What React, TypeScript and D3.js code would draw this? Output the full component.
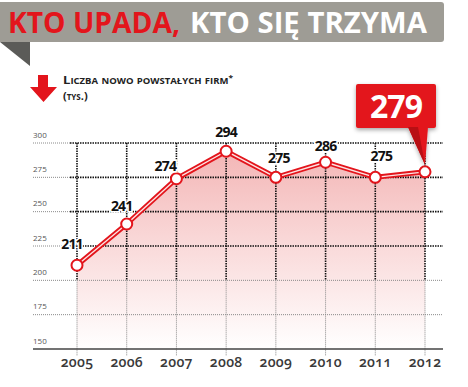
import React from 'react';
import * as d3 from 'd3';

// data
const years = ['2005', '2006', '2007', '2008', '2009', '2010', '2011', '2012'];
const firms = [211, 241, 274, 294, 275, 286, 275, 279];
const yTicks = [150, 175, 200, 225, 250, 275, 300];
const highlight = 279;

// label nudges so the numbers sit like in the print
const labelDx = [-5, -5, -11, 0, 3, 0, 6, 0];
const labelDy = [-16, -13, -8, -14, -14, -11, -16, -14];

const W = 468;
const H = 387;
const RED = '#e3151c';

export default function App() {
  const x = d3.scalePoint<string>().domain(years).range([77, 425]);
  const y = d3.scaleLinear().domain([150, 300]).range([349, 143]);

  const pts = years.map((yr, i) => ({ yr, v: firms[i], px: x(yr) as number, py: y(firms[i]) }));

  const line = d3.line<typeof pts[0]>().x(d => d.px).y(d => d.py);
  const area = d3.area<typeof pts[0]>().x(d => d.px).y0(y(150)).y1(d => d.py);

  const last = pts[pts.length - 1];
  const font = '"Open Sans", sans-serif';

  return (
    <svg width={W} height={H} style={{ position: 'absolute', left: 0, top: 0, background: '#fff' }}>
      <defs>
        <linearGradient id="fill" x1="0" y1={y(300)} x2="0" y2={y(150)} gradientUnits="userSpaceOnUse">
          <stop offset="0" stopColor="#f3b3b3" />
          <stop offset="0.45" stopColor="#f9d6d6" />
          <stop offset="1" stopColor="#ffffff" />
        </linearGradient>
        <filter id="shadow" x="-20%" y="-20%" width="140%" height="150%">
          <feDropShadow dx="0" dy="2" stdDeviation="2" floodColor="#000" floodOpacity="0.35" />
        </filter>
      </defs>

      {/* title banner */}
      <rect x={-4} y={2} width={448} height={40} rx={3} fill="#9e9c95" />
      <polygon points="0,42 30,42 30,66" fill="#5b5b58" />
      <text x={8} y={33} fontFamily={font} fontWeight={700} fontSize={28} fill={RED}
        textLength={172} lengthAdjust="spacingAndGlyphs">KTO UPADA,</text>
      <text x={190} y={33} fontFamily={font} fontWeight={700} fontSize={28} fill="#fff"
        textLength={237} lengthAdjust="spacingAndGlyphs">KTO SIĘ TRZYMA</text>

      {/* subtitle with arrow */}
      <polygon points="38,75 48,75 48,87 57,87 43.5,102 30,87 38,87" fill={RED} />
      <text x={63} y={84} fontFamily={font} fontWeight={700} fontSize={11} fill="#222"
        textLength={170} lengthAdjust="spacingAndGlyphs"
        style={{ fontVariant: 'small-caps' }}>Liczba nowo powstałych firm<tspan dy={-4} fontSize={7}>*</tspan></text>
      <text x={63} y={100} fontFamily={font} fontWeight={700} fontSize={11} fill="#222"
        style={{ fontVariant: 'small-caps' }}>(tys.)</text>

      {/* area under line */}
      <path d={area(pts) as string} fill="url(#fill)" />

      {/* horizontal grid */}
      {yTicks.filter(t => t !== 150).map(t => (
        <g key={t}>
          <line x1={33} x2={t >= 225 ? 70 : 443} y1={y(t)} y2={y(t)} stroke="#8a8a8a" strokeWidth={1} strokeDasharray="1,1" />
          {t >= 225 && (
            <line x1={70} x2={443} y1={y(t)} y2={y(t)} stroke="#111" strokeWidth={1.6} strokeDasharray="1.5,1" />
          )}
        </g>
      ))}

      {/* vertical grid */}
      {years.map(yr => (
        <g key={yr}>
          <line x1={x(yr)} x2={x(yr)} y1={y(300)} y2={y(200)} stroke="#111" strokeWidth={1.6} strokeDasharray="1.5,1" />
          <line x1={x(yr)} x2={x(yr)} y1={y(200)} y2={356} stroke="#8a8a8a" strokeWidth={1} strokeDasharray="1,1" />
        </g>
      ))}

      {/* y tick labels */}
      {yTicks.map(t => (
        <text key={t} x={33} y={y(t) - 5.5} fontFamily={font} fontSize={8} fill="#555">{t}</text>
      ))}

      {/* base axis */}
      <line x1={33} x2={443} y1={y(150)} y2={y(150)} stroke="#444" strokeWidth={1.5} />

      {/* x labels */}
      {years.map(yr => (
        <text key={yr} x={x(yr)} y={367} textAnchor="middle" fontFamily={font} fontWeight={600} fontSize={14}
          fill="#3a3a3a" letterSpacing={0.3} style={{ fontFeatureSettings: '"onum"' }}>{yr}</text>
      ))}

      {/* line */}
      <path d={line(pts) as string} fill="none" stroke={RED} strokeWidth={5} strokeLinejoin="round" />
      <path d={line(pts) as string} fill="none" stroke="#fde3e3" strokeWidth={1.4} strokeLinejoin="round" />
      {pts.map(p => (
        <circle key={p.yr} cx={p.px} cy={p.py} r={5.5} fill="#fff" stroke={RED} strokeWidth={2} />
      ))}

      {/* value labels */}
      {pts.map((p, i) => (
        <text key={p.yr} x={p.px + labelDx[i]} y={p.py + labelDy[i]} textAnchor="middle" fontFamily={font}
          fontWeight={700} fontSize={14} letterSpacing={-0.8} fill="#111"
          stroke="#fff" strokeWidth={3} style={{ paintOrder: 'stroke' }}>
          {i === pts.length - 1 ? '' : p.v}
        </text>
      ))}

      {/* callout */}
      <g filter="url(#shadow)">
        <rect x={356} y={84} width={80} height={44} rx={2} fill={RED} />
        <polygon points={`408,127 428,127 ${last.px},${last.py - 7}`} fill={RED} />
      </g>
      <polygon points={`408,127 418,127 ${last.px},${last.py - 7}`} fill="#b80f14" />
      <text x={396} y={118} textAnchor="middle" fontFamily={font} fontWeight={700} fontSize={32} fill="#fff"
        letterSpacing={-1}>{highlight}</text>
    </svg>
  );
}
